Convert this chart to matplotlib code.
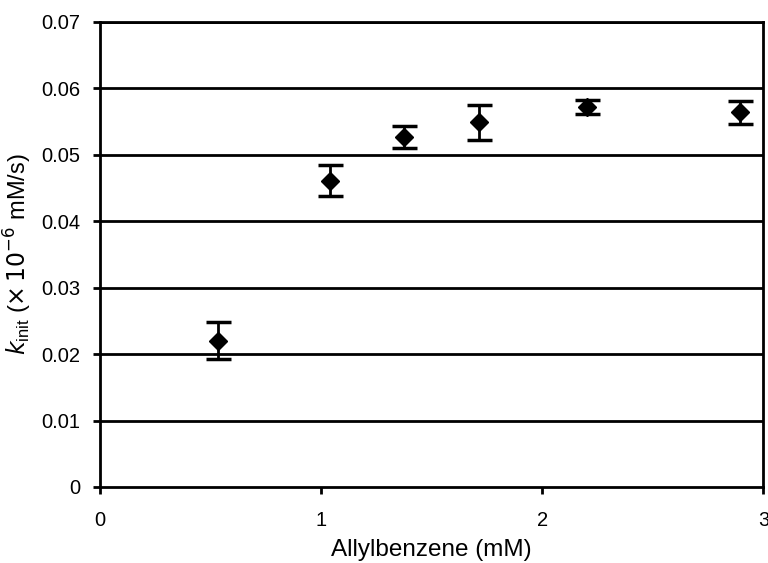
import matplotlib
matplotlib.use("Agg")
import matplotlib.pyplot as plt
from matplotlib.ticker import FuncFormatter

plt.rcParams["font.family"] = ["Liberation Sans", "DejaVu Sans"]

# data
allylbenzene = [0.534, 1.04, 1.376, 1.715, 2.204, 2.896]
k_init = [0.0220, 0.0461, 0.0527, 0.0549, 0.0572, 0.0564]
k_err = [0.0028, 0.0023, 0.0017, 0.0026, 0.0010, 0.0017]

y_ticks = [0, 0.01, 0.02, 0.03, 0.04, 0.05, 0.06, 0.07]
x_ticks = [0, 1, 2, 3]

fig = plt.figure(figsize=(7.68, 5.63), dpi=100)
ax = fig.add_axes([0.130, 0.135, 0.864, 0.826])

for y in y_ticks[1:]:
    ax.axhline(y, color="black", lw=2.0, zorder=1)

ax.errorbar(
    allylbenzene,
    k_init,
    yerr=k_err,
    fmt="D",
    color="black",
    markersize=9,
    elinewidth=2,
    capsize=9,
    capthick=2.5,
    zorder=3,
)

ax.set_xlim(0, 3)
ax.set_ylim(0, 0.07)
ax.set_xticks(x_ticks)
ax.set_yticks(y_ticks)
ax.yaxis.set_major_formatter(FuncFormatter(lambda v, p: "0" if v == 0 else f"{v:.2f}"))

for s in ax.spines.values():
    s.set_linewidth(2)
    s.set_color("black")

ax.tick_params(axis="both", direction="out", length=5, width=2, labelsize=14.5)
ax.tick_params(axis="x", pad=12)
ax.tick_params(axis="y", pad=9)
ax.set_xlabel("Allylbenzene (mM)", fontsize=17.5, labelpad=7)
ax.set_ylabel(r"$k_{\mathregular{init}}$ ($\times\,10^{-6}$ mM/s)", fontsize=17, labelpad=5)

fig.savefig("out.png", dpi=100)
